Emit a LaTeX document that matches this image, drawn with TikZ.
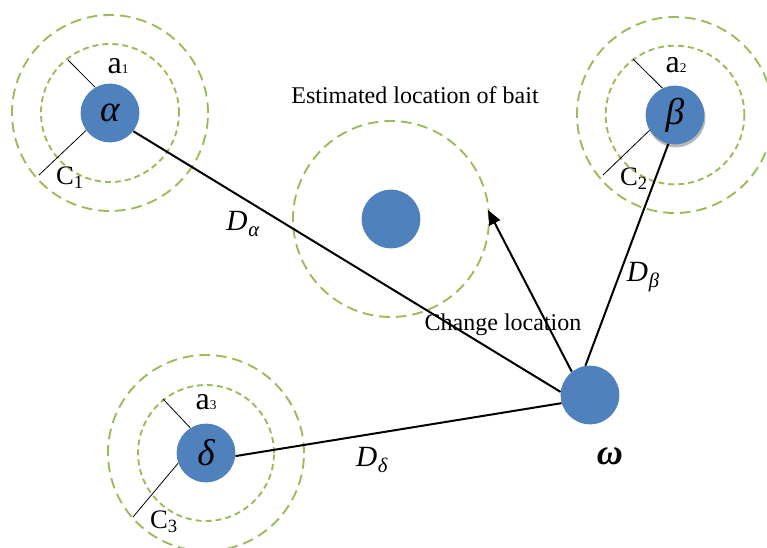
\documentclass[tikz,border=0pt]{standalone}
\usepackage{fontspec}
\setmainfont{Liberation Serif}
\usetikzlibrary{arrows.meta}
\definecolor{ballblue}{HTML}{4F81BD}
\definecolor{ringgreen}{HTML}{9BBB59}
\newcommand{\dsub}[1]{\textit{D}\kern0.5pt\raisebox{-4.5pt}{\fontsize{15.5}{15.5}\selectfont\textit{#1}}}
\begin{document}
\begin{tikzpicture}[x=0.75pt,y=-0.75pt,
  ball/.style={circle, fill=ballblue, minimum size=44pt, inner sep=0pt, font=\fontsize{28}{28}\selectfont\itshape},
  ringin/.style={draw=ringgreen, line width=1.4pt, dash pattern=on 4.5pt off 3pt},
  ringout/.style={draw=ringgreen, line width=1.4pt, dash pattern=on 8pt off 4.5pt},
  conn/.style={draw=black, line width=1.5pt},
  radline/.style={draw=black, line width=0.6pt},
  alab/.style={inner sep=0pt, font=\fontsize{24}{24}\selectfont},
  lab/.style={inner sep=0pt, font=\fontsize{20}{22}\selectfont},
  txt/.style={inner sep=0pt, font=\fontsize{18}{20}\selectfont},
  dlab/.style={inner sep=0pt, font=\fontsize{22}{22}\selectfont}]
\useasboundingbox (0,0) rectangle (767,547);

% rings
\draw[ringin]  (110,113) circle[radius=51.75pt];
\draw[ringout] (110,113) circle[radius=73.5pt];
\draw[ringin]  (675,115) circle[radius=52pt];
\draw[ringout] (675,115) circle[radius=73.5pt];
\draw[ringin]  (206,453) circle[radius=51pt];
\draw[ringout] (206,453) circle[radius=73.5pt];
\draw[ringout] (391,219) circle[radius=73.5pt];

% balls
\node[ball] (alpha) at (110,113) {α};
\node[ball, fill=gray!55] (betashadow) at (676,118) {};
\node[ball] (beta) at (675,115) {β};
\node[ball] (delta) at (206,453) {δ};
\node[ball] (bait) at (391,219) {};
\node[ball] (omega) at (590,395) {};

% radius marker ends
\coordinate (a1o) at (68,60);
\coordinate (c1o) at (39,175);
\coordinate (a2o) at (633,59);
\coordinate (c2o) at (603,175);
\coordinate (a3o) at (163,399);
\coordinate (c3o) at (133,517);
\coordinate (tip) at (488,210);

\draw[radline] (a1o) -- (alpha.120);
\draw[radline] (c1o) -- (alpha.216);
\draw[radline] (a2o) -- (beta.115);
\draw[radline] (c2o) -- (beta.211);
\draw[radline] (a3o) -- (delta.122);
\draw[radline] (c3o) -- (delta.200);

% connectors
\draw[conn] (alpha.-38) -- (omega.174);
\draw[conn] (beta.257) -- (omega.99);
\draw[conn] (delta.-6) -- (omega.196);
\draw[conn, -{Triangle[length=11pt,width=9pt]}] (omega.128) -- (tip);

% labels
\node[alab] (la1) at (118,66) {a{\fontsize{10}{10}\selectfont 1}};
\node[lab] (lc1) at (70,178) {C\textsubscript{1}};
\node[alab] (la2) at (676,65) {a{\fontsize{10}{10}\selectfont 2}};
\node[lab] (lc2) at (634,179) {C\textsubscript{2}};
\node[alab] (la3) at (206,402) {a{\fontsize{10}{10}\selectfont 3}};
\node[lab] (lc3) at (164,522) {C\textsubscript{3}};

\node[dlab] (dal) at (243,224) {\dsub{α}};
\node[dlab] (dbe) at (643,277) {\dsub{β}};
\node[dlab] (dde) at (372,460) {\dsub{δ}};
\node[inner sep=0pt, font=\fontsize{27}{27}\selectfont\bfseries\itshape] (om) at (610,456) {ω};

\node[txt] (est) at (415,95) {Estimated location of bait};
\node[txt] (chg) at (503,325) {Change location};
\end{tikzpicture}
\end{document}
